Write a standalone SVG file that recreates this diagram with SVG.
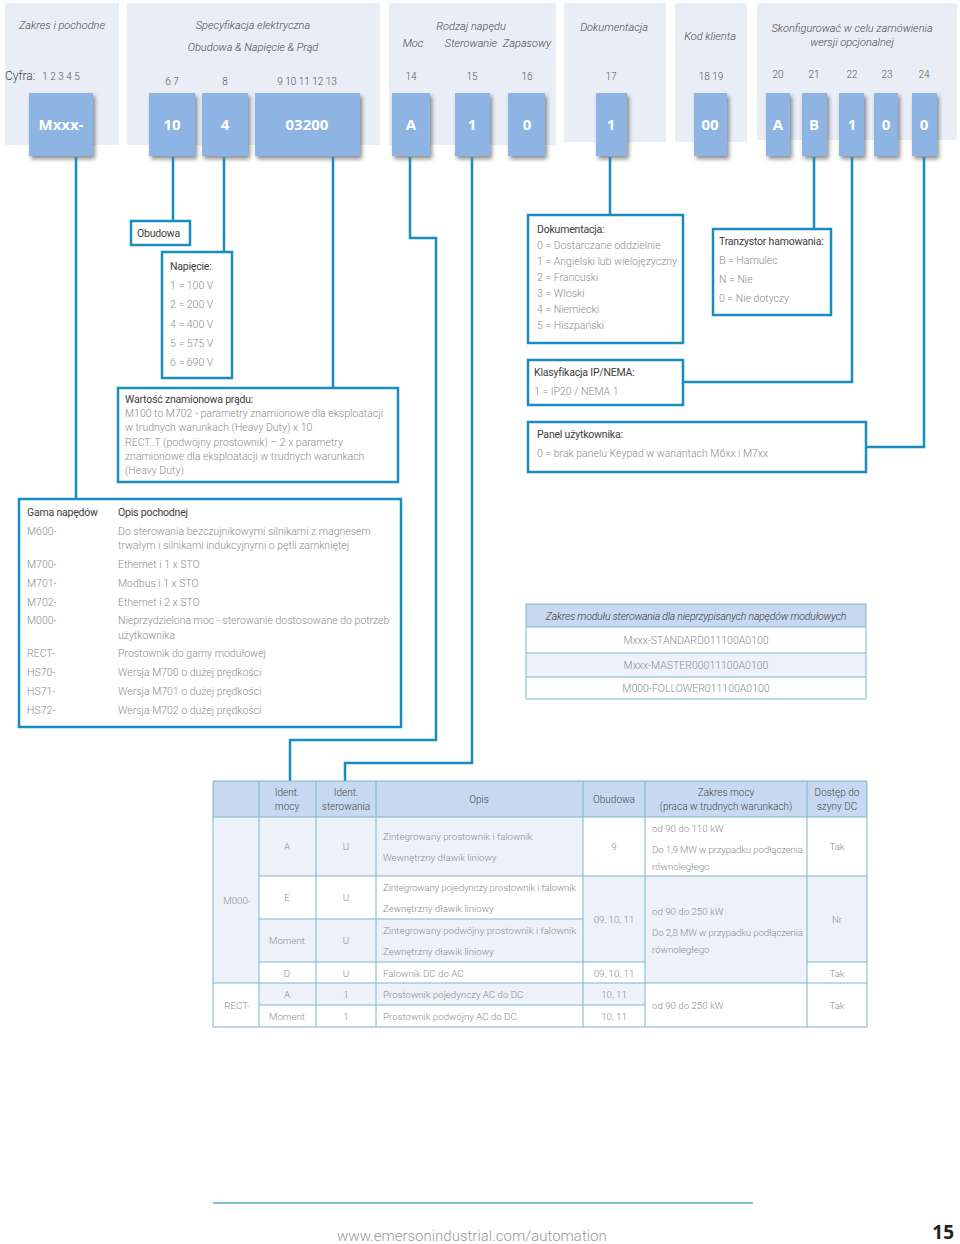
<svg xmlns="http://www.w3.org/2000/svg" width="960" height="1244" viewBox="0 0 960 1244">
<defs>
<filter id="sh" x="-20%" y="-20%" width="150%" height="150%">
<feGaussianBlur in="SourceAlpha" stdDeviation="2"/>
<feOffset dx="2" dy="3" result="b"/>
<feComponentTransfer><feFuncA type="linear" slope="0.45"/></feComponentTransfer>
<feMerge><feMergeNode/><feMergeNode in="SourceGraphic"/></feMerge>
</filter>
</defs>
<style>
text{font-family:Roboto,"Liberation Sans",sans-serif;font-weight:300;font-size:10.5px;fill:#8c8c8c}
.pan{fill:#e9edf6}
.hd{font-style:italic;fill:#4a4a4a;text-anchor:middle;font-size:11px}
.dg{fill:#555;font-size:10px;text-anchor:middle}
.cb{fill:#8db4e2;filter:url(#sh)}
.ct{fill:#fff;font-weight:700;font-size:15px;text-anchor:middle;font-family:"Open Sans","Liberation Sans",sans-serif}
.bx{fill:#fff;stroke:#1b8cc0;stroke-width:2.5}
.cn{fill:none;stroke:#1b8cc0;stroke-width:2.5}
.tt{fill:#3c3c3c;font-weight:400;letter-spacing:-0.2px}
.tc{text-anchor:middle}
.hdr{fill:#c6d9f0}
.lt{fill:#edf2fa}
.gl{stroke:#7fb5c9;stroke-width:1;fill:none}
.tb text{font-size:9.7px}
.th text{fill:#4a4a4a;font-size:10px}
</style>

<g id="header-panels">
<rect class="pan" x="5" y="3" width="114" height="142"/>
<rect class="pan" x="127" y="3" width="253" height="142"/>
<rect class="pan" x="389" y="3" width="167" height="142"/>
<rect class="pan" x="564" y="3" width="102" height="139"/>
<rect class="pan" x="675" y="3" width="72" height="139"/>
<rect class="pan" x="757" y="3" width="200" height="137"/>
<text class="hd" x="62" y="29">Zakres i pochodne</text>
<text class="hd" x="253" y="29">Specyfikacja elektryczna</text>
<text class="hd" x="253" y="51">Obudowa &amp; Napięcie &amp; Prąd</text>
<text class="hd" x="471" y="30">Rodzaj napędu</text>
<text class="hd" x="413" y="47">Moc</text>
<text class="hd" x="471" y="47">Sterowanie</text>
<text class="hd" x="527" y="47">Zapasowy</text>
<text class="hd" x="614" y="31">Dokumentacja</text>
<text class="hd" x="710" y="40">Kod klienta</text>
<text class="hd" x="852" y="32">Skonfigurować w celu zamówienia</text>
<text class="hd" x="852" y="46">wersji opcjonalnej</text>
<text x="5" y="80" style="fill:#444;font-size:12px">Cyfra:</text>
<text class="dg" x="61" y="80">1 2 3 4 5</text>
<text class="dg" x="172" y="85">6 7</text>
<text class="dg" x="225" y="85">8</text>
<text class="dg" x="307" y="85">9 10 11 12 13</text>
<text class="dg" x="411" y="80">14</text>
<text class="dg" x="472" y="80">15</text>
<text class="dg" x="527" y="80">16</text>
<text class="dg" x="611" y="80">17</text>
<text class="dg" x="711" y="80">18 19</text>
<text class="dg" x="778" y="78">20</text>
<text class="dg" x="814" y="78">21</text>
<text class="dg" x="852" y="78">22</text>
<text class="dg" x="887" y="78">23</text>
<text class="dg" x="924" y="78">24</text>
</g>

<g id="code-boxes">
<g id="c-mxxx"><rect class="cb" x="29" y="93" width="64" height="63"/><text class="ct" x="61" y="130">Mxxx-</text></g>
<g id="c-10"><rect class="cb" x="149" y="93" width="46" height="63"/><text class="ct" x="172" y="130">10</text></g>
<g id="c-4"><rect class="cb" x="202" y="93" width="46" height="63"/><text class="ct" x="225" y="130">4</text></g>
<g id="c-03200"><rect class="cb" x="255" y="93" width="105" height="63"/><text class="ct" x="307" y="130">03200</text></g>
<g id="c-A"><rect class="cb" x="392" y="93" width="38" height="63"/><text class="ct" x="411" y="130">A</text></g>
<g id="c-1a"><rect class="cb" x="455" y="93" width="35" height="63"/><text class="ct" x="472" y="130">1</text></g>
<g id="c-0a"><rect class="cb" x="508" y="93" width="37" height="63"/><text class="ct" x="527" y="130">0</text></g>
<g id="c-1b"><rect class="cb" x="596" y="93" width="31" height="63"/><text class="ct" x="611" y="130">1</text></g>
<g id="c-00"><rect class="cb" x="694" y="93" width="33" height="63"/><text class="ct" x="710" y="130">00</text></g>
<g id="c-A2"><rect class="cb" x="766" y="93" width="24" height="63"/><text class="ct" x="778" y="130">A</text></g>
<g id="c-B"><rect class="cb" x="802" y="93" width="25" height="63"/><text class="ct" x="814" y="130">B</text></g>
<g id="c-1c"><rect class="cb" x="839" y="93" width="25" height="63"/><text class="ct" x="852" y="130">1</text></g>
<g id="c-0b"><rect class="cb" x="874" y="93" width="24" height="63"/><text class="ct" x="886" y="130">0</text></g>
<g id="c-0c"><rect class="cb" x="912" y="93" width="25" height="63"/><text class="ct" x="924" y="130">0</text></g>
</g>

<g id="connectors">
<path class="cn" d="M76 157V499"/>
<path class="cn" d="M173 157V221"/>
<path class="cn" d="M224 157V252"/>
<path class="cn" d="M333 157V388"/>
<path class="cn" d="M410 157V238H436V740H290V781"/>
<path class="cn" d="M472 157V763H345V781"/>
<path class="cn" d="M610 157V215"/>
<path class="cn" d="M814 157V229"/>
<path class="cn" d="M852 157V382H683"/>
<path class="cn" d="M924 157V447H866"/>
</g>

<g id="obudowa">
<rect class="bx" x="131" y="221" width="59" height="24"/>
<text class="tt" x="137" y="237">Obudowa</text>
</g>

<g id="napiecie">
<rect class="bx" x="162" y="252" width="70" height="126"/>
<text class="tt" x="170" y="270">Napięcie:</text>
<text x="170" y="289">1 = 100 V</text>
<text x="170" y="308">2 = 200 V</text>
<text x="170" y="328">4 = 400 V</text>
<text x="170" y="347">5 = 575 V</text>
<text x="170" y="366">6 = 690 V</text>
</g>

<g id="wartosc">
<rect class="bx" x="118" y="388" width="280" height="94"/>
<text class="tt" x="125" y="403">Wartość znamionowa prądu:</text>
<text x="125" y="417">M100 to M702 - parametry znamionowe dla eksploatacji</text>
<text x="125" y="431">w trudnych warunkach (Heavy Duty) x 10</text>
<text x="125" y="446">RECT..T (podwójny prostownik) – 2 x parametry</text>
<text x="125" y="460">znamionowe dla eksploatacji w trudnych warunkach</text>
<text x="125" y="474">(Heavy Duty)</text>
</g>

<g id="dokumentacja">
<rect class="bx" x="528" y="215" width="155" height="128"/>
<text class="tt" x="537" y="233">Dokumentacja:</text>
<text x="537" y="249">0 = Dostarczane oddzielnie</text>
<text x="537" y="265">1 = Angielski lub wielojęzyczny</text>
<text x="537" y="281">2 = Francuski</text>
<text x="537" y="297">3 = Włoski</text>
<text x="537" y="313">4 = Niemiecki</text>
<text x="537" y="329">5 = Hiszpański</text>
</g>

<g id="tranzystor">
<rect class="bx" x="713" y="229" width="118" height="86"/>
<text class="tt" x="719" y="245">Tranzystor hamowania:</text>
<text x="719" y="264">B = Hamulec</text>
<text x="719" y="283">N = Nie</text>
<text x="719" y="302">0 = Nie dotyczy</text>
</g>

<g id="klasyfikacja">
<rect class="bx" x="528" y="360" width="155" height="45"/>
<text class="tt" x="534" y="376">Klasyfikacja IP/NEMA:</text>
<text x="534" y="395">1 = IP20 / NEMA 1</text>
</g>

<g id="panel">
<rect class="bx" x="528" y="422" width="338" height="50"/>
<text class="tt" x="537" y="438">Panel użytkownika:</text>
<text x="537" y="457">0 = brak panelu Keypad w wariantach M6xx i M7xx</text>
</g>

<g id="gama">
<rect class="bx" x="19" y="499" width="382" height="228"/>
<text class="tt" x="27" y="516">Gama napędów</text>
<text class="tt" x="118" y="516">Opis pochodnej</text>
<text x="27" y="535">M600-</text><text x="118" y="535">Do sterowania bezczujnikowymi silnikami z magnesem</text>
<text x="118" y="549">trwałym i silnikami indukcyjnymi o pętli zamkniętej</text>
<text x="27" y="568">M700-</text><text x="118" y="568">Ethernet i 1 x STO</text>
<text x="27" y="587">M701-</text><text x="118" y="587">Modbus i 1 x STO</text>
<text x="27" y="606">M702-</text><text x="118" y="606">Ethernet i 2 x STO</text>
<text x="27" y="624">M000-</text><text x="118" y="624">Nieprzydzielona moc - sterowanie dostosowane do potrzeb</text>
<text x="118" y="639">użytkownika</text>
<text x="27" y="657">RECT-</text><text x="118" y="657">Prostownik do gamy modułowej</text>
<text x="27" y="676">HS70-</text><text x="118" y="676">Wersja M700 o dużej prędkości</text>
<text x="27" y="695">HS71-</text><text x="118" y="695">Wersja M701 o dużej prędkości</text>
<text x="27" y="714">HS72-</text><text x="118" y="714">Wersja M702 o dużej prędkości</text>
</g>

<g id="zakres-modulu">
<rect class="hdr" x="526" y="604" width="340" height="23"/>
<rect fill="#fff" x="526" y="627" width="340" height="26"/>
<rect class="lt" x="526" y="653" width="340" height="24"/>
<rect fill="#fff" x="526" y="677" width="340" height="22"/>
<path class="gl" d="M526 604H866V699H526Z M526 627H866 M526 653H866 M526 677H866"/>
<text class="tc" x="696" y="620" style="font-style:italic;fill:#3c3c3c;letter-spacing:-0.2px">Zakres modułu sterowania dla nieprzypisanych napędów modułowych</text>
<text class="tc" x="696" y="644">Mxxx-STANDARD011100A0100</text>
<text class="tc" x="696" y="669">Mxxx-MASTER00011100A0100</text>
<text class="tc" x="696" y="692">M000-FOLLOWER011100A0100</text>
</g>

<g id="tabela">
<rect class="hdr" x="213" y="781" width="654" height="36"/>
<rect class="lt" x="213" y="817" width="46" height="166"/>
<rect class="lt" x="259" y="817" width="324" height="59"/>
<rect class="lt" x="259" y="919" width="324" height="43"/>
<rect class="lt" x="583" y="876" width="62" height="86"/>
<rect class="lt" x="645" y="876" width="162" height="107"/>
<rect class="lt" x="807" y="876" width="60" height="86"/>
<rect class="lt" x="259" y="983" width="386" height="22"/>
<path class="gl" d="M213 781H867V1027H213Z M213 817H867 M259 876H867 M259 919H583 M259 962H645 M807 962H867 M213 983H867 M259 1005H645 M259 781V1027 M316 781V1027 M376 781V1027 M583 781V1027 M645 781V1027 M807 781V1027"/>
<g class="th">
<text class="tc" x="287" y="796">Ident.</text>
<text class="tc" x="287" y="810">mocy</text>
<text class="tc" x="346" y="796">Ident.</text>
<text class="tc" x="346" y="810">sterowania</text>
<text class="tc" x="479" y="803">Opis</text>
<text class="tc" x="614" y="803">Obudowa</text>
<text class="tc" x="726" y="796">Zakres mocy</text>
<text class="tc" x="726" y="810">(praca w trudnych warunkach)</text>
<text class="tc" x="837" y="796">Dostęp do</text>
<text class="tc" x="837" y="810">szyny DC</text>
</g>
<g class="tb">
<text class="tc" x="237" y="904">M000-</text>
<text class="tc" x="237" y="1009">RECT-</text>
<text class="tc" x="287" y="850">A</text>
<text class="tc" x="346" y="850">U</text>
<text x="383" y="840">Zintegrowany prostownik i falownik</text>
<text x="383" y="861">Wewnętrzny dławik liniowy</text>
<text class="tc" x="614" y="850">9</text>
<text x="652" y="832">od 90 do 110 kW</text>
<text x="652" y="853" style="letter-spacing:-0.15px">Do 1,9 MW w przypadku podłączenia</text>
<text x="652" y="870">równoległego</text>
<text class="tc" x="837" y="850">Tak</text>
<text class="tc" x="287" y="901">E</text>
<text class="tc" x="346" y="901">U</text>
<text x="383" y="891" style="letter-spacing:-0.15px">Zintegrowany pojedynczy prostownik i falownik</text>
<text x="383" y="912">Zewnętrzny dławik liniowy</text>
<text class="tc" x="287" y="944">Moment</text>
<text class="tc" x="346" y="944">U</text>
<text x="383" y="934">Zintegrowany podwójny prostownik i falownik</text>
<text x="383" y="955">Zewnętrzny dławik liniowy</text>
<text class="tc" x="614" y="923">09, 10, 11</text>
<text x="652" y="915">od 90 do 250 kW</text>
<text x="652" y="936" style="letter-spacing:-0.15px">Do 2,8 MW w przypadku podłączenia</text>
<text x="652" y="953">równoległego</text>
<text class="tc" x="837" y="923">Nr</text>
<text class="tc" x="287" y="977">D</text>
<text class="tc" x="346" y="977">U</text>
<text x="383" y="977">Falownik DC do AC</text>
<text class="tc" x="614" y="977">09, 10, 11</text>
<text class="tc" x="837" y="977">Tak</text>
<text class="tc" x="287" y="998">A</text>
<text class="tc" x="346" y="998">1</text>
<text x="383" y="998">Prostownik pojedynczy AC do DC</text>
<text class="tc" x="614" y="998">10, 11</text>
<text x="652" y="1009">od 90 do 250 kW</text>
<text class="tc" x="837" y="1009">Tak</text>
<text class="tc" x="287" y="1020">Moment</text>
<text class="tc" x="346" y="1020">1</text>
<text x="383" y="1020">Prostownik podwójny AC do DC</text>
<text class="tc" x="614" y="1020">10, 11</text>
</g>
</g>

<g id="footer">
<line x1="213" y1="1203" x2="753" y2="1203" stroke="#5aa8d8" stroke-width="1.5"/>
<text x="337" y="1241" style="font-size:15px;fill:#9a9a9a">www.emersonindustrial.com/automation</text>
<text x="954" y="1239" style="font-size:19px;font-weight:700;fill:#222;text-anchor:end;font-family:'Open Sans','Liberation Sans',sans-serif">15</text>
</g>
</svg>
